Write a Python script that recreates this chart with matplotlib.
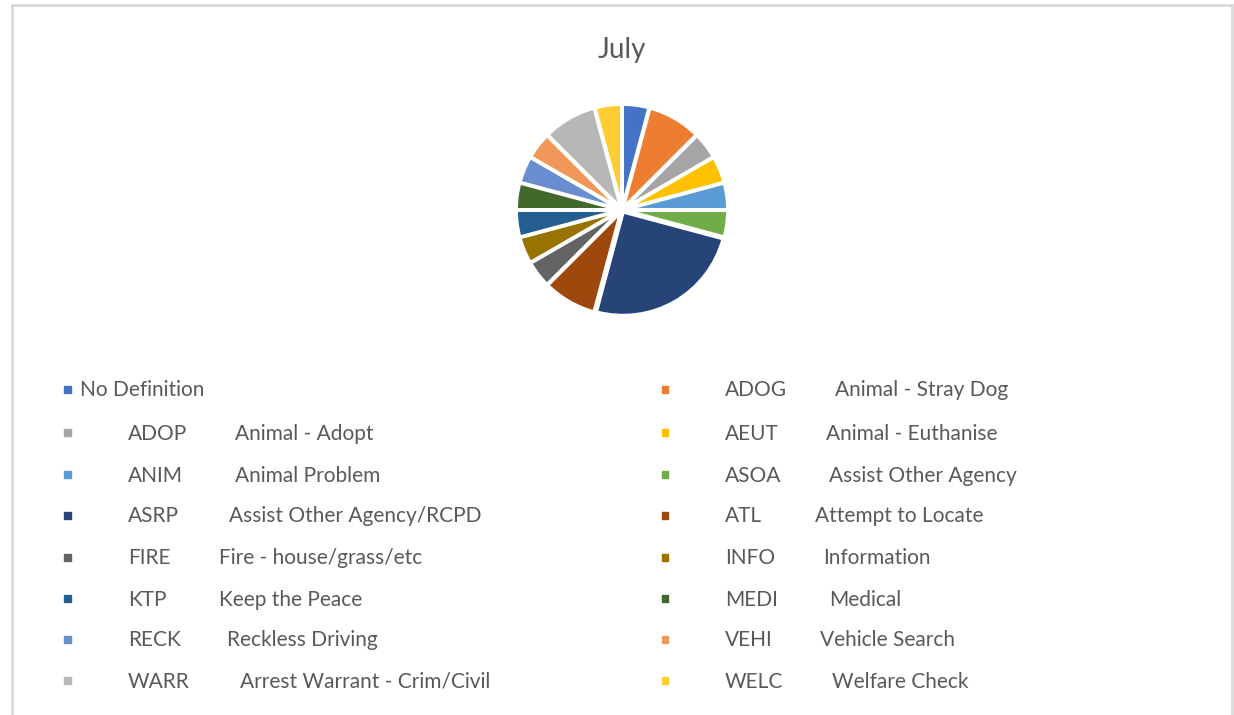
import matplotlib.pyplot as plt
from matplotlib.patches import Rectangle

plt.rcParams['font.family'] = ['Lato', 'DejaVu Sans']

# July call counts (24 calls total)
codes = ['', 'ADOG', 'ADOP', 'AEUT', 'ANIM', 'ASOA', 'ASRP', 'ATL',
         'FIRE', 'INFO', 'KTP', 'MEDI', 'RECK', 'VEHI', 'WARR', 'WELC']
descriptions = ['No Definition', 'Animal - Stray Dog', 'Animal - Adopt',
                'Animal - Euthanise', 'Animal Problem', 'Assist Other Agency',
                'Assist Other Agency/RCPD', 'Attempt to Locate',
                'Fire - house/grass/etc', 'Information', 'Keep the Peace',
                'Medical', 'Reckless Driving', 'Vehicle Search',
                'Arrest Warrant - Crim/Civil', 'Welfare Check']
counts = [1, 2, 1, 1, 1, 1, 6, 2, 1, 1, 1, 1, 1, 1, 2, 1]
colors = ['#4472C4', '#ED7D31', '#A5A5A5', '#FFC000', '#5B9BD5', '#70AD47',
          '#264478', '#9E480E', '#636363', '#997300', '#255E91', '#43682B',
          '#698ED0', '#F1975A', '#B7B7B7', '#FFCD33']

W, H = 1234, 715
fig = plt.figure(figsize=(W / 100, H / 100), dpi=100)

# chart border
fig.patches.append(Rectangle((12 / W, -0.01), (1232 - 12) / W, 1 - 5 / H + 0.01,
                             transform=fig.transFigure, fill=False,
                             edgecolor='#d9d9d9', linewidth=2))

fig.text(622 / W, 1 - 50 / H, 'July', ha='center', va='center',
         fontsize=20, color='#595959')

# pie: centre (622, 210), radius ~104 px
r = 108
ax = fig.add_axes([(622 - r) / W, 1 - (210 + r) / H, 2 * r / W, 2 * r / H])
ax.pie(counts, colors=colors, startangle=90, counterclock=False,
       explode=[0.02] * len(counts), radius=0.96,
       wedgeprops=dict(edgecolor='white', linewidth=2.5))
ax.set_xlim(-1, 1)
ax.set_ylim(-1, 1)
ax.set_aspect('equal')

# legend, two columns, drawn by hand to keep the tab gaps
row_y = [389, 432, 474, 515, 557, 598, 639, 680]
left_desc_x = [80, 235, 235, 229, 219, 219, 227, 240]
right_desc_x = [835, 826, 829, 815, 823, 829, 820, 832]
for i, (code, desc, col) in enumerate(zip(codes, descriptions, colors)):
    row = i // 2
    y = 1 - row_y[row] / H
    ty = 1 - (row_y[row] + 1.5) / H
    if i % 2 == 0:
        mx, cx, dx = 67, 128, left_desc_x[row]
    else:
        mx, cx, dx = 665, 725, right_desc_x[row]
    fig.patches.append(Rectangle((mx / W - 3.5 / W, y - 3.5 / H), 7 / W, 7 / H,
                                 transform=fig.transFigure, color=col))
    if code:
        fig.text(cx / W, ty, code, ha='left', va='center', fontsize=15,
                 color='#595959')
    fig.text(dx / W, ty, desc, ha='left', va='center', fontsize=15,
             color='#595959')

plt.savefig('out.png', dpi=100)
